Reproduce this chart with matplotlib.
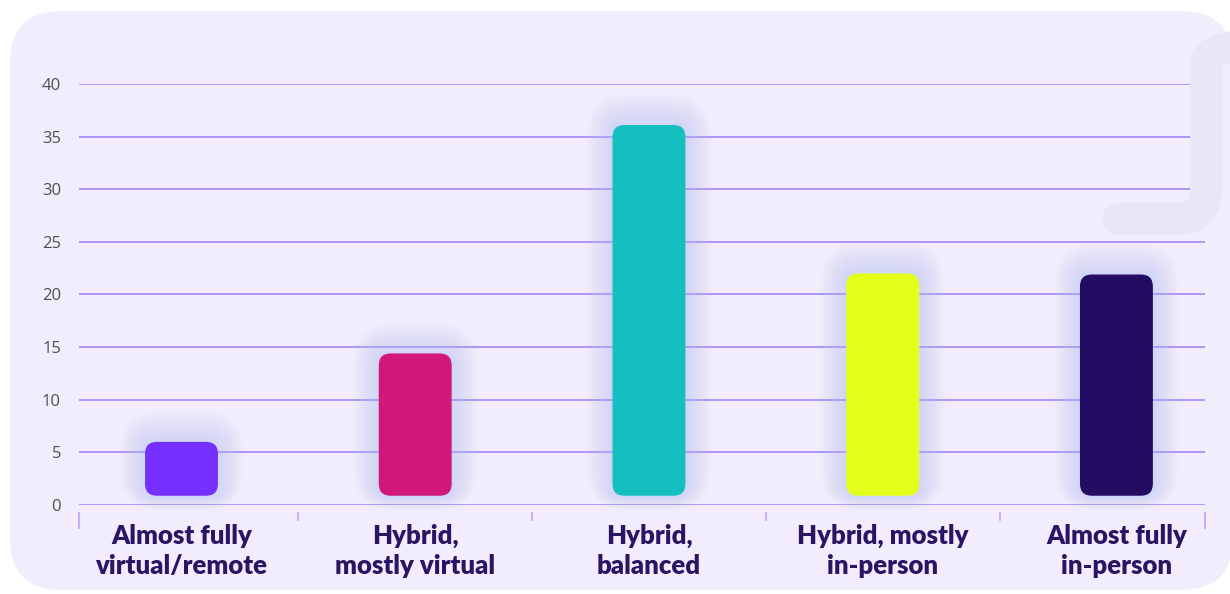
import matplotlib
matplotlib.use("Agg")
import matplotlib.pyplot as plt
from matplotlib.patches import FancyBboxPatch, PathPatch
from matplotlib.path import Path
from matplotlib.transforms import IdentityTransform, blended_transform_factory
import numpy as np

categories = ["Almost fully\nvirtual/remote", "Hybrid,\nmostly virtual", "Hybrid,\nbalanced",
              "Hybrid, mostly\nin-person", "Almost fully\nin-person"]
values = [6.0, 14.4, 36.1, 22.0, 21.9]
colors = ["#7530FF", "#D1177A", "#14BFBF", "#E3FF1A", "#250C63"]
yticks = [0, 5, 10, 15, 20, 25, 30, 35, 40]

W, H = 1230, 594
fig = plt.figure(figsize=(W / 100, H / 100), dpi=100)
fig.patch.set_facecolor("white")

ident = IdentityTransform()
# background card
bg = FancyBboxPatch((10, 4), 1223, 579, boxstyle="round,pad=0,rounding_size=52",
                    fc="#F1EDFD", ec="none", transform=ident, zorder=0)
fig.add_artist(bg)

# decorative J shape
def P(x, y):
    return (x, H - y)
verts = [P(1250, 46), P(1215, 46), P(1206, 60), P(1206, 80),
         P(1206, 190), P(1206, 219), P(1177, 219), P(1118, 219)]
codes = [Path.MOVETO, Path.CURVE3, Path.CURVE3, Path.LINETO,
         Path.LINETO, Path.CURVE3, Path.CURVE3, Path.LINETO]
deco = PathPatch(Path(verts, codes), fc="none", ec="#E7E7F8", lw=23,
                 capstyle="round", joinstyle="round", transform=ident, zorder=0.5)
fig.add_artist(deco)

ax = fig.add_axes([79 / W, (H - 505) / H, (1205 - 79) / W, 421 / H])
ax.patch.set_alpha(0)
ax.set_xlim(-0.4385, 4.379)
ax.set_ylim(0, 40)
for s in ax.spines.values():
    s.set_visible(False)
ax.set_yticks(yticks)
ax.yaxis.grid(True, color="#A88EF7", lw=1.3, zorder=1)
ax.set_axisbelow(True)
ax.tick_params(axis="y", length=0, pad=13, labelsize=12, labelcolor="#505050")
for lab in ax.get_yticklabels():
    lab.set_fontfamily("Open Sans")
ax.set_xticks([])

base = 0.88
bw = 0.312
r = 12
fig.canvas.draw()
for i, (v, c) in enumerate(zip(values, colors)):
    (x0, y0) = ax.transData.transform((i - bw / 2, base))
    (x1, y1) = ax.transData.transform((i + bw / 2, v))
    w, h = x1 - x0, y1 - y0
    N = 16
    for k in range(N, 0, -1):
        p = 28 * k / N
        g = FancyBboxPatch((x0 - p * 0.9, y0 - p * 0.5), w + 1.8 * p, h + p * 1.6,
                           boxstyle=f"round,pad=0,rounding_size={r + p}",
                           fc="#B4C1F6", ec="none", alpha=0.032,
                           transform=ident, zorder=2, clip_on=False)
        ax.add_patch(g)
    bar = FancyBboxPatch((x0, y0), w, h, boxstyle=f"round,pad=0,rounding_size={r}",
                         fc=c, ec="none", transform=ident, zorder=3, clip_on=False)
    ax.add_patch(bar)

# tick marks at category boundaries
tr = blended_transform_factory(ax.transData, ax.transAxes)
bounds = [0.5, 1.5, 2.5, 3.5]
for b in bounds:
    ax.plot([b, b], [-0.019, -0.036], color="#B9A6F6", lw=1.2, transform=tr, clip_on=False)
for b in ax.get_xlim():
    ax.plot([b, b], [-0.019, -0.055], color="#B9A6F6", lw=1.2, transform=tr, clip_on=False)

for i, cat in enumerate(categories):
    ax.text(i, -0.044, cat, transform=tr, ha="center", va="top", fontsize=18.5,
            fontweight="heavy", family="Lato", color="#2A1463", linespacing=1.3)

fig.savefig("out.png", dpi=100, facecolor="white")
